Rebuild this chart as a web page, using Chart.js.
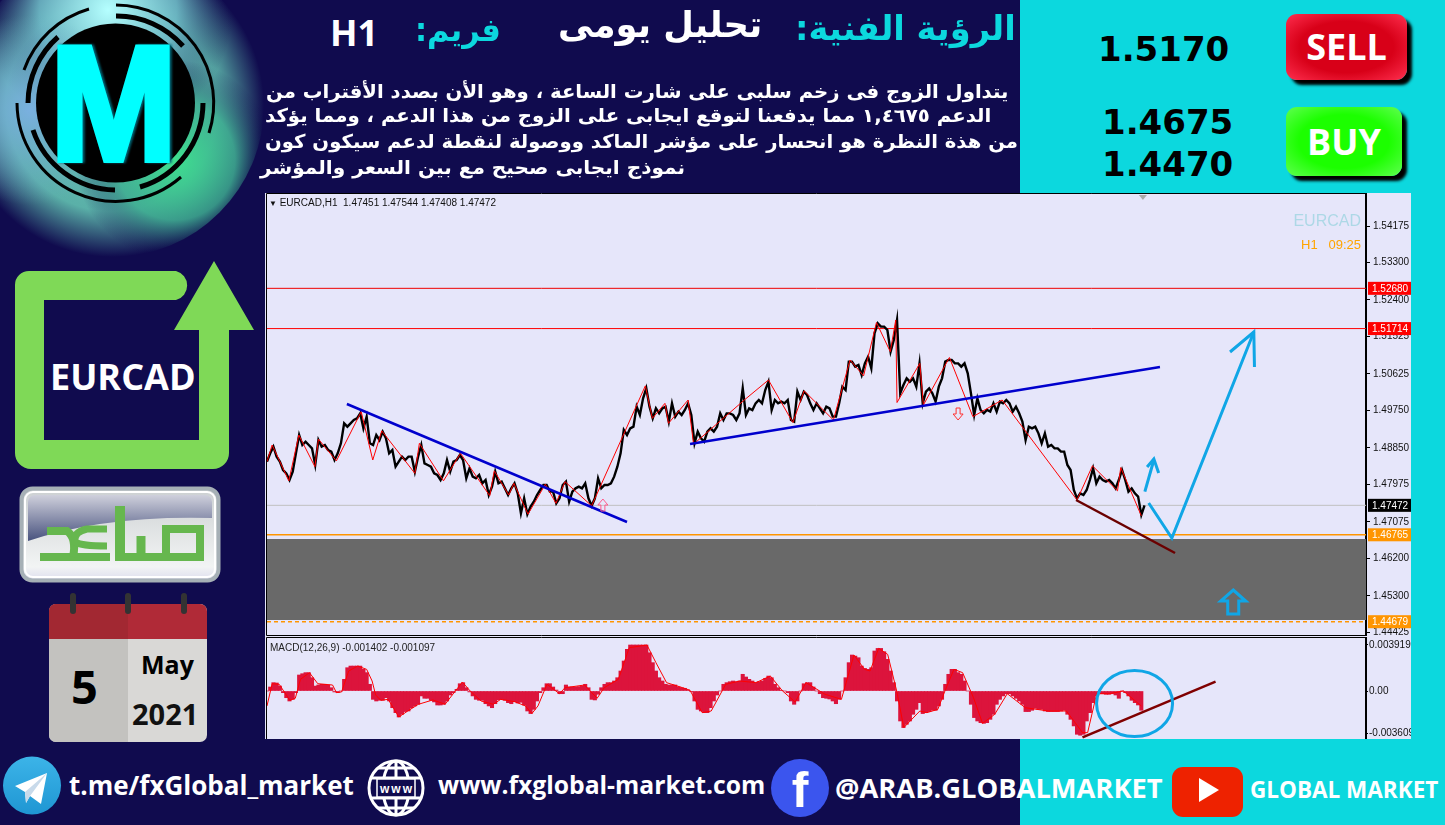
<!DOCTYPE html>
<html lang="ar">
<head>
<meta charset="utf-8">
<title>EURCAD H1</title>
<script src="https://cdn.jsdelivr.net/npm/chart.js@4"></script>
<style>
  html, body { margin: 0; padding: 0; background: #100b4e; }
  #page { position: relative; width: 1445px; height: 825px; overflow: hidden; background: #100b4e; font-family: "Open Sans", sans-serif; }
  .abs { position: absolute; white-space: nowrap; }
  .cyan { background: #0cd8de; position: absolute; }
  .ar { font-family: "DejaVu Sans", sans-serif; font-weight: bold; direction: rtl; transform-origin: right center; }
  .num { font-family: "DejaVu Sans", sans-serif; font-weight: bold; color: #000; font-size: 34px; line-height: 40px; }
  .foot { font-family: "Open Sans", sans-serif; font-weight: bold; color: #fff; transform-origin: left center; }
  canvas { position: absolute; background: #e6e6fa; }
  .btn { position: absolute; color: #fff; font: bold 36px "Open Sans", sans-serif; text-align: center; border-radius: 11px; box-shadow: 5px 5px 3px #000; }
</style>
</head>
<body>
<div id="page">
  <div class="cyan" style="left:1020px;top:0;width:425px;height:193px"></div>
  <div class="cyan" style="left:1411px;top:0;width:34px;height:825px"></div>
  <div class="cyan" style="left:1020px;top:739px;width:425px;height:86px"></div>

  <!-- logo -->
  <svg class="abs" style="left:0;top:0" width="270" height="265">
    <defs>
      <radialGradient id="gTop" gradientUnits="userSpaceOnUse" cx="108" cy="10" r="125">
        <stop offset="0" stop-color="#b5ffff"/><stop offset=".55" stop-color="#6fb8c8" stop-opacity=".8"/><stop offset="1" stop-color="#100b4e" stop-opacity="0"/>
      </radialGradient>
      <radialGradient id="gLeft" gradientUnits="userSpaceOnUse" cx="30" cy="110" r="95">
        <stop offset="0" stop-color="#7ab0e0"/><stop offset="1" stop-color="#6fa8c8" stop-opacity="0"/>
      </radialGradient>
      <radialGradient id="gRight" gradientUnits="userSpaceOnUse" cx="175" cy="160" r="100">
        <stop offset="0" stop-color="#3ee08f"/><stop offset=".6" stop-color="#3dae90" stop-opacity=".8"/><stop offset="1" stop-color="#100b4e" stop-opacity="0"/>
      </radialGradient>
      <radialGradient id="gBase" gradientUnits="userSpaceOnUse" cx="112" cy="105" r="152">
        <stop offset="0" stop-color="#6ec8b8"/><stop offset=".7" stop-color="#5ab0a8"/><stop offset="1" stop-color="#100b4e"/>
      </radialGradient>
    </defs>
    <circle cx="112" cy="105" r="152" fill="url(#gBase)"/>
    <circle cx="112" cy="105" r="152" fill="url(#gTop)"/>
    <circle cx="112" cy="105" r="152" fill="url(#gLeft)"/>
    <circle cx="112" cy="105" r="152" fill="url(#gRight)"/>
    <circle cx="115.5" cy="103" r="79.5" fill="#000"/>
    <g fill="none" stroke="#000" stroke-width="3">
      <path d="M116 5 A98 98 0 0 1 209 133"/>
      <path d="M181 177 A99 99 0 0 1 17 103"/>
      <path d="M24 70 A98 98 0 0 1 89 9"/>
      <path d="M116 16 A88 88 0 0 1 183 46" stroke-width="5"/>
      <path d="M203 103 A88 88 0 0 1 140 187" stroke-width="5"/>
      <path d="M115 190 A88 88 0 0 1 33 130" stroke-width="5"/>
      <path d="M28 103 A88 88 0 0 1 58 37" stroke-width="5"/>
    </g>
    <text x="50" y="160" font-family="Liberation Sans" font-weight="bold" font-size="163" textLength="127" lengthAdjust="spacingAndGlyphs" fill="#0ff" stroke="#0ff" stroke-width="6" style="filter:drop-shadow(2px 0 1px #067)">M</text>
  </svg>

  <!-- green arrow -->
  <svg class="abs" style="left:0;top:255px" width="265" height="220">
    <path fill="#7fd957" d="M29 16 H176 A15 15 0 0 1 176 45 H44 V185 H199 V75 H174 L214 6 L254 75 H229 V198 A16 16 0 0 1 213 214 H31 A16 16 0 0 1 15 198 V30 A14 14 0 0 1 29 16 Z"/>
  </svg>
  <div class="abs foot" style="left:50px;top:353px;font-size:36px;line-height:48px">EURCAD</div>

  <!-- saed logo -->
  <svg class="abs" style="left:15px;top:482px" width="210" height="105">
    <defs>
      <linearGradient id="sGrey" x1="0" y1="0" x2="0" y2="1"><stop offset="0" stop-color="#ccd0d2"/><stop offset=".85" stop-color="#f2f4f4"/><stop offset="1" stop-color="#dde"/></linearGradient>
      <linearGradient id="sDark" x1="0" y1="1" x2="0" y2="0"><stop offset="0" stop-color="#48527e"/><stop offset="1" stop-color="#cfd0dc"/></linearGradient>
    </defs>
    <rect x="6.5" y="6.5" width="197" height="92" rx="11" fill="url(#sGrey)" stroke="#a6b0b6" stroke-width="4"/>
    <rect x="10" y="10" width="190" height="85" rx="8" fill="none" stroke="#fff" stroke-width="2"/>
    <path d="M13 59 V20 A7 7 0 0 1 20 13 H190 A7 7 0 0 1 197 20 V36 Q90 33 13 59Z" fill="url(#sDark)"/>
    <g fill="none" stroke="#66b74e" stroke-width="8">
      <path d="M25 75 H95 M100 75 H185 V47 H151 V75"/>
      <path d="M105 79 V24" stroke-width="10"/>
      <path d="M126 75 V54" stroke-width="9"/>
      <path d="M32 49 H52 Q62 56 58 75"/>
      <path d="M92 47 H72 Q58 50 60 60 Q66 64 92 64" stroke-width="7"/>
    </g>
  </svg>

  <!-- calendar -->
  <svg class="abs" style="left:45px;top:590px" width="170" height="156">
    <rect x="4" y="14" width="158" height="138" rx="7" fill="#d9d8d6"/>
    <path d="M4 49 H83 V152 H11 A7 7 0 0 1 4 145Z" fill="#c3c2bf"/>
    <path d="M11 14 H155 A7 7 0 0 1 162 21 V49 H4 V21 A7 7 0 0 1 11 14Z" fill="#b02a37"/>
    <path d="M11 14 H83 V49 H4 V21 A7 7 0 0 1 11 14Z" fill="#a22832"/>
    <rect x="25" y="3" width="6" height="21" rx="3" fill="#333"/>
    <rect x="80" y="3" width="6" height="21" rx="3" fill="#333"/>
    <rect x="136" y="3" width="6" height="21" rx="3" fill="#333"/>
  </svg>
  <div class="abs foot" style="left:71px;top:655px;font-size:47px;line-height:62px;color:#000">5</div>
  <div class="abs foot" style="left:141px;top:646px;font-size:25px;line-height:36px;color:#000">May</div>
  <div class="abs foot" style="left:132px;top:694px;font-size:29px;line-height:40px;color:#111">2021</div>

  <!-- heading -->
  <div class="abs ar line" data-w="221" style="right:429px;top:6px;font-size:34px;line-height:44px;color:#0cd8de">الرؤية الفنية:</div>
  <div class="abs ar line" data-w="204" style="right:683px;top:3px;font-size:36px;line-height:44px;color:#fff">تحليل يومى</div>
  <div class="abs ar line" data-w="86" style="right:944px;top:8px;font-size:32px;line-height:44px;color:#0cd8de">فريم:</div>
  <div class="abs foot" style="left:330px;top:9px;font-size:36px;line-height:48px">H1</div>
  <div class="abs ar line" data-w="742" style="right:437px;top:79px;font-size:19px;line-height:25px;color:#fff">يتداول الزوج فى زخم سلبى على شارت الساعة ، وهو الأن بصدد الأقتراب من</div>
  <div class="abs ar line" data-w="726" style="right:454px;top:103px;font-size:19px;line-height:25px;color:#fff">الدعم ١,٤٦٧٥ مما يدفعنا لتوقع ايجابى على الزوج من هذا الدعم ، ومما يؤكد</div>
  <div class="abs ar line" data-w="753" style="right:427px;top:129px;font-size:19px;line-height:25px;color:#fff">من هذة النظرة هو انحسار على مؤشر الماكد ووصولة لنقطة لدعم سيكون كون</div>
  <div class="abs ar line" data-w="425" style="right:760px;top:155px;font-size:19px;line-height:25px;color:#fff">نموذج ايجابى صحيح مع بين السعر والمؤشر</div>

  <!-- levels -->
  <div class="abs num" style="left:1098px;top:29px">1.5170</div>
  <div class="abs num" style="left:1102px;top:102px">1.4675</div>
  <div class="abs num" style="left:1102px;top:144px">1.4470</div>
  <div class="btn" style="left:1286px;top:14px;width:121px;height:66px;line-height:66px;background:radial-gradient(ellipse at center,#d80018 55%,#ff3050 100%)">SELL</div>
  <div class="btn" style="left:1286px;top:107px;width:116px;height:69px;line-height:69px;background:radial-gradient(ellipse at center,#1cff00 55%,#60ff50 100%)">BUY</div>

  <canvas id="priceChart" style="left:265px;top:193px" width="1146" height="444"></canvas>
  <canvas id="macdChart" style="left:265px;top:637px" width="1146" height="102"></canvas>

  <div class="abs" style="left:269px;top:197px;font:10px 'Liberation Sans';line-height:12px;color:#111"><span style="font-size:8px">&#9660;</span> EURCAD,H1&nbsp; 1.47451 1.47544 1.47408 1.47472</div>
  <div class="abs" style="right:84px;top:212px;font:16px 'Liberation Sans';line-height:18px;color:#add8e6">EURCAD</div>
  <div class="abs" style="right:84px;top:237px;font:13px 'Liberation Sans';line-height:15px;color:#ffa500;white-space:pre">H1   09:25</div>
  <div class="abs" style="left:270px;top:642px;font:10px 'Liberation Sans';line-height:12px;color:#222">MACD(12,26,9) -0.001402 -0.001097</div>

  <!-- footer -->
  <svg class="abs" style="left:0;top:750px" width="1250" height="75">
    <defs><linearGradient id="tg" x1="0" y1="0" x2="0" y2="1"><stop offset="0" stop-color="#3cb4e8"/><stop offset="1" stop-color="#1f96d3"/></linearGradient></defs>
    <ellipse cx="32" cy="35.5" rx="29" ry="29" fill="url(#tg)"/>
    <path d="M15 36 L47 23 L41 54 L30 46 L26 53 L25 42Z" fill="#fff"/>
    <path d="M25 42 L47 23 L30 46 L26 53Z" fill="#c8daea"/>
    <g fill="none" stroke="#fff" stroke-width="3">
      <circle cx="396" cy="38" r="27"/>
      <ellipse cx="396" cy="38" rx="13" ry="27"/>
      <path d="M396 11 V65 M378 18 H414 M372 28 H420 M372 48 H420 M378 58 H414"/>
    </g>
    <rect x="377" y="29" width="38" height="18" fill="#100b4e" stroke="#fff" stroke-width="1.5"/>
    <text x="396" y="43" text-anchor="middle" font-family="Liberation Sans" font-weight="bold" font-size="12" fill="#fff" textLength="32">www</text>
    <ellipse cx="800" cy="38" rx="29" ry="29" fill="#3b55ee"/>
    <text x="800" y="57" text-anchor="middle" font-family="Liberation Sans" font-weight="bold" font-size="50" fill="#fff">f</text>
    <rect x="1172" y="17" width="71" height="50" rx="11" fill="#ee2200"/>
    <path d="M1199 28 L1219 40 L1199 52Z" fill="#fff"/>
  </svg>
  <div class="abs foot" style="left:69px;top:765px;font-size:26px;line-height:40px">t.me/fxGlobal_market</div>
  <div class="abs foot" style="left:438px;top:765px;font-size:24.7px;line-height:40px">www.fxglobal-market.com</div>
  <div class="abs foot" style="left:835px;top:768px;font-size:27.3px;line-height:40px">@ARAB.GLOBALMARKET</div>
  <div class="abs foot" style="left:1250px;top:772px;font-size:22.5px;line-height:36px">GLOBAL MARKET</div>
</div>

<script>
(function () {
  'use strict';

  // --- Price panel, one close every sample ---
  var closes = [
    1.4852, 1.4872, 1.4888, 1.4864, 1.4852, 1.4832, 1.4824, 1.4808, 1.4828, 1.4872, 1.4916, 1.4892, 1.4900, 1.4892, 1.4884, 1.4844,
    1.4904, 1.4888, 1.4892, 1.4880, 1.4876, 1.4856, 1.4872, 1.4896, 1.4944, 1.4936, 1.4944, 1.4952, 1.4956, 1.4968, 1.4932, 1.4960,
    1.4896, 1.4892, 1.4916, 1.4904, 1.4924, 1.4908, 1.4872, 1.4880, 1.4840, 1.4852, 1.4864, 1.4856, 1.4864, 1.4864, 1.4828, 1.4864,
    1.4892, 1.4848, 1.4844, 1.4840, 1.4824, 1.4820, 1.4808, 1.4824, 1.4856, 1.4828, 1.4852, 1.4856, 1.4868, 1.4856, 1.4812, 1.4836,
    1.4816, 1.4812, 1.4820, 1.4800, 1.4808, 1.4772, 1.4792, 1.4828, 1.4800, 1.4804, 1.4788, 1.4772, 1.4788, 1.4800, 1.4776, 1.4728,
    1.4764, 1.4726, 1.4744, 1.4756, 1.4772, 1.4784, 1.4796, 1.4796, 1.4780, 1.4780, 1.4752, 1.4764, 1.4796, 1.4804, 1.4756, 1.4780,
    1.4788, 1.4792, 1.4788, 1.4800, 1.4764, 1.4746, 1.4764, 1.4812, 1.4788, 1.4796, 1.4796, 1.4800, 1.4816, 1.4840, 1.4872, 1.4928,
    1.4916, 1.4932, 1.4936, 1.4984, 1.4964, 1.5004, 1.5028, 1.4984, 1.4956, 1.4980, 1.4968, 1.4980, 1.4984, 1.4948, 1.4992, 1.4960,
    1.4972, 1.4964, 1.4976, 1.4992, 1.4964, 1.4896, 1.4924, 1.4908, 1.4900, 1.4924, 1.4932, 1.4924, 1.4936, 1.4968, 1.4952, 1.4968,
    1.4968, 1.4964, 1.4952, 1.4968, 1.5028, 1.4964, 1.4980, 1.4976, 1.4992, 1.5000, 1.4992, 1.5024, 1.5044, 1.4976, 1.5000, 1.4992,
    1.4996, 1.4992, 1.5000, 1.4952, 1.4948, 1.5020, 1.5000, 1.5020, 1.5012, 1.4992, 1.4976, 1.4992, 1.4980, 1.4968,
    1.4984, 1.4980, 1.4960, 1.4960, 1.4992, 1.5032, 1.5024, 1.5092, 1.5092, 1.5080, 1.5084, 1.5060, 1.5088, 1.5104, 1.5076, 1.5160,
    1.5184, 1.5176, 1.5176, 1.5168, 1.5116, 1.5144, 1.5192, 1.5016, 1.5036, 1.5052, 1.5044, 1.5052, 1.5032, 1.5088, 1.4992, 1.5020,
    1.5028, 1.5016, 1.4996, 1.5032, 1.5052, 1.5092, 1.5096, 1.5096, 1.5088, 1.5088, 1.5080, 1.5088, 1.5064, 1.5016, 1.4964, 1.5004,
    1.4976, 1.4968, 1.4976, 1.4972, 1.4992, 1.4972, 1.4996, 1.4992, 1.5000, 1.4992, 1.4972, 1.4984, 1.4968, 1.4948, 1.4904, 1.4936,
    1.4932, 1.4936, 1.4920, 1.4896, 1.4920, 1.4888, 1.4892, 1.4884, 1.4884, 1.4876, 1.4876, 1.4844, 1.4832, 1.4784, 1.4764, 1.4776,
    1.4772, 1.4784, 1.4808, 1.4836, 1.4800, 1.4816, 1.4808, 1.4804, 1.4808, 1.4800, 1.4788, 1.4808, 1.4832, 1.4808, 1.4780, 1.4788,
    1.4776, 1.4768, 1.4724, 1.4747
  ];

  var zigzagAt = [0, 1.6, 6.8, 9.9, 14.9, 16, 21.6, 29.3, 32.9, 35.7, 46, 47.4, 54.9, 60.2, 69.3, 70.7, 75.2, 76.8, 81.2, 86.6, 89.9, 92.7, 101,
    117.7, 119.9, 123.8, 124.9, 131, 132.7, 148.8, 156, 163.6, 167.1, 173.6, 176.2, 181.4, 185.6, 189.6, 193.9, 195.6, 196, 203.1, 204.2, 212.3, 219.6, 228.7, 252, 256.8, 264.6, 265.6, 272];
  var zigzagPrice = [1.4852, 1.4892, 1.4806, 1.4916, 1.4840, 1.4906, 1.4854, 1.4972, 1.4856, 1.4926, 1.4824, 1.4896, 1.4806, 1.4872, 1.4770, 1.4830, 1.4772,
    1.4800, 1.4726, 1.4798, 1.4752, 1.4804, 1.4746, 1.5034, 1.4956, 1.4992, 1.4944, 1.5000, 1.4894, 1.5002, 1.5048, 1.4946, 1.5022, 1.4972, 1.4952, 1.5096, 1.5058,
    1.5186, 1.5116, 1.5192, 1.4994, 1.5088, 1.4988, 1.5102, 1.4960, 1.5000, 1.4760, 1.4842, 1.4782, 1.4838, 1.4722];

  var downTrendAt = [24.85, 112], downTrendPrice = [1.49904, 1.47072];
  var upTrendAt = [131.6, 277.8], upTrendPrice = [1.48944, 1.50792];
  var supportAt = [251.7, 282.5], supportPrice = [1.476, 1.46328];

  var pathAt = [274.3, 281.5, 307], pathPrice = [1.47528, 1.46688, 1.51632];
  var pathHeadAt = [299.6, 307, 307.2], pathHeadPrice = [1.51152, 1.51632, 1.50792];
  var bounceAt = [273.1, 275.9], bouncePrice = [1.47799, 1.4856];
  var bounceHeadAt = [273.8, 275.9, 277.4], bounceHeadPrice = [1.48392, 1.48584, 1.48248];

  var zoneTop = 1.46664, zoneBottom = 1.4472;
  var resistLevels = [1.5268, 1.51714];
  var lastPrice = 1.47472;
  var supportLevel = 1.46765;
  var lowerLevel = 1.44679;

  var priceTicks = [1.54175, 1.533, 1.524, 1.51525, 1.50625, 1.4975, 1.4885, 1.47975, 1.47075, 1.462, 1.453, 1.44425];
  var macdTicks = [0.003919, 0, -0.003609];

  // --- MACD panel ---
  var macdHist = [
    0, .00034, .00071, .00068, .00042, -.00014, -.00057, -.00085, -.00071, -.00014, .00136, .00147, .00156, .00156, .00113, .00042,
    .00051, .00057, .00057, .00051, .00028, -.00008, -.00014, 0, .00099, .00198, .00212, .00212, .00212, .00212, .00184, .00156,
    .00057, -.00071, -.00085, -.00079, -.00079, -.00057, -.00085, -.00142, -.00184, -.00221, -.00198, -.00175, -.0017, -.00142, -.00127, -.00113,
    -.00042, -.00062, -.00062, -.00079, -.00093, -.00119, -.00119, -.00113, -.00085, -.00034, -.00014, .00014, .00062, .00071, .00028, -.00008,
    -.00042, -.00071, -.00079, -.00079, -.00108, -.00127, -.00142, -.00108, -.00074, -.00071, -.00079, -.00099, -.00108, -.00091, -.00102, -.00096,
    -.00119, -.0017, -.00192, -.00156, -.00085, -.00014, .00028, .00062, .00062, .00034, .00008, -.00023, -.00023, .00051, .00034, .00034,
    .00034, .00037, .00042, .00057, .00028, -.00071, -.00076, -.00028, .00028, .00057, .00071, .00071, .00085, .00113, .0017, .00255,
    .00354, .00391, .00391, .00391, .00391, .00391, .00391, .00325, .00241, .0017, .00113, .00085, .00057, .00051, .00051, .00051,
    .00034, .00028, .00023, .00008, -.00006, -.00085, -.00156, -.0017, -.00184, -.00184, -.00142, -.00085, -.00034, 0, .00057, .00071,
    .00079, .00085, .00079, .00085, .00142, .00119, .00099, .00085, .00071, .00079, .00085, .00108, .00127, .00113, .00057, .00028,
    .00006, 0, -.00014, -.00085, -.00113, -.00085, 0, .00062, .00071, .00071, .00034, 0, -.00023, -.00057,
    -.00062, -.00068, -.00085, -.00108, -.00071, 0, .00113, .00241, .00306, .00297, .00283, .00212, .00192, .00184, .00198, .0034,
    .00362, .00362, .00334, .00269, .0017, .00071, -.00085, -.00255, -.00311, -.00283, -.00255, -.00198, -.00156, -.00099, -.00192, -.00184,
    -.00175, -.00164, -.00164, -.00127, -.00071, .00057, .00142, .00184, .00184, .00156, .00142, .00085, 0, -.00113, -.00226, -.00255,
    -.00269, -.00275, -.00269, -.00241, -.00198, -.00113, -.00071, -.00042, -.00023, -.00023, -.00042, -.00062, -.00085, -.00113, -.00175, -.00175,
    -.00164, -.00147, -.00156, -.00156, -.0017, -.00175, -.00175, -.00175, -.00175, -.0017, -.00164, -.00198, -.00241, -.00297, -.00368, -.00376,
    -.00368, -.00255, -.00184, -.00099, -.00042, -.00023, -.00023, -.00028, -.00028, -.00023, -.00034, -.00062, 0, -.00014, -.00042, -.00079,
    -.00099, -.00119, -.00164
  ];

  var signalAt = [0, 1.6, 3.8, 7.1, 8.8, 10.4, 13.2, 15.8, 20.4, 21.6, 23.2, 25.4, 28.2, 31, 32.7, 33.8, 35.4, 37.7, 41, 43.8, 47.1, 51.6, 55.4, 58.2, 60.8, 63.2, 66.6, 70.4, 72.7, 77.1,
    80.4, 82.4, 84.3, 87.1, 91, 92.7, 98.8, 102.7, 104.9, 109.3, 112.7, 118.2, 121, 124.3, 129.3, 131.6, 135.4, 138.2, 142.7, 147.1, 152.1, 156.6, 160.4, 164.3, 167.7, 173.6,
    178.7, 182.6, 185.9, 187.6, 190.3, 193.1, 195.9, 198.1, 203.1, 205.3, 208.7, 210.9, 213.7, 216.4, 219.8, 222.6, 226.4, 230.3, 235.9, 243.1, 248.7, 253.7, 255.3, 258.1, 262, 266.4, 272];
  var signalValue = [-.00127, .00062, .00057, -.00079, -.00062, .00099, .00156, .00062, .00051, -.00014, -.00008, .0017, .00212, .00184, .00085, -.00034, -.00079, -.00071, -.00221, -.0017, -.00113, -.00076, -.00113, -.00014, .00076, 0, -.00085, -.00113, -.00071, -.00091,
    -.00127, -.00192, -.00127, .00057, -.00023, .00028, .00051, -.00062, .00028, .00099, .00368, .00391, .00241, .00071, .00028, .00006, -.00184, -.0017, .00057, .00085, .00071, .00127, 0, -.00093, .00071, -.00028,
    -.00071, .00306, .00184, .0017, .00362, .00311, 0, -.00311, -.0017, -.00184, -.00156, 0, .00184, .00156, -.00057, -.00275, -.00198, -.00023, -.00142, -.0017, -.0017, -.00354, -.00354, -.00023, -.00023, 0, -.00127];

  var macdTrendAt = [253.7, 295.1], macdTrendValue = [-.00394, .00079];
  var circleAt = 269.9, circleValue = -.00106;

  var upMarkAt = 104.5, upMarkPrice = 1.4748;
  var downMarkAt = 215, downMarkPrice = 1.49664;
  var targetMarkAt = 300.6, targetMarkPrice = 1.45152;

  var X_MAX = 341.9;
  var SKY = '#10a6e6';

  function pairs(xs, ys) {
    return xs.map(function (x, i) { return { x: x, y: ys[i] }; });
  }

  function lineSet(xs, ys, color, width, extra) {
    var ds = { type: 'line', data: pairs(xs, ys), borderColor: color, borderWidth: width, pointRadius: 0, tension: 0, fill: false };
    if (extra) for (var k in extra) ds[k] = extra[k];
    return ds;
  }

  function levelSet(value, color, width, extra) {
    return lineSet([0, X_MAX], [value, value], color, width, extra);
  }

  // hollow up/down block arrow
  function blockArrow(ctx, x, y, w, h, stem, head, dir, color, lw) {
    var d = dir;
    ctx.save();
    ctx.strokeStyle = color;
    ctx.lineWidth = lw;
    ctx.beginPath();
    ctx.moveTo(x, y - d * h / 2);
    ctx.lineTo(x + w / 2, y - d * h / 2 + d * head);
    ctx.lineTo(x + stem / 2, y - d * h / 2 + d * head);
    ctx.lineTo(x + stem / 2, y + d * h / 2);
    ctx.lineTo(x - stem / 2, y + d * h / 2);
    ctx.lineTo(x - stem / 2, y - d * h / 2 + d * head);
    ctx.lineTo(x - w / 2, y - d * h / 2 + d * head);
    ctx.closePath();
    ctx.stroke();
    ctx.restore();
  }

  function priceTag(chart, value, color) {
    var ctx = chart.ctx;
    var y = chart.scales.y.getPixelForValue(value);
    ctx.save();
    ctx.fillStyle = color;
    ctx.fillRect(chart.chartArea.right + 2, y - 6.5, 43, 13);
    ctx.fillStyle = '#fff';
    ctx.font = '10px "Liberation Sans"';
    ctx.textBaseline = 'middle';
    ctx.fillText(value.toFixed(5), chart.chartArea.right + 6, y + 0.5);
    ctx.restore();
  }

  function frameLines(chart) {
    var ctx = chart.ctx, a = chart.chartArea;
    ctx.save();
    ctx.strokeStyle = '#000';
    ctx.lineWidth = 1;
    ctx.beginPath();
    ctx.moveTo(a.left - 0.5, a.bottom + 0.5);
    ctx.lineTo(a.left - 0.5, a.top - 0.5);
    ctx.lineTo(a.right, a.top - 0.5);
    ctx.moveTo(a.left - 0.5, a.bottom + 0.5);
    ctx.lineTo(a.right, a.bottom + 0.5);
    ctx.stroke();
    ctx.restore();
  }

  var priceMarks = {
    id: 'priceMarks',
    afterDatasetsDraw: function (chart) {
      var ctx = chart.ctx, sx = chart.scales.x, sy = chart.scales.y;
      blockArrow(ctx, sx.getPixelForValue(upMarkAt), sy.getPixelForValue(upMarkPrice), 10, 12, 4, 6, 1, '#ff5a8a', 1);
      blockArrow(ctx, sx.getPixelForValue(downMarkAt), sy.getPixelForValue(downMarkPrice), 10, 12, 4, 6, -1, '#ff3030', 1);
      blockArrow(ctx, sx.getPixelForValue(targetMarkAt), sy.getPixelForValue(targetMarkPrice), 25, 24, 11, 11, 1, SKY, 3);
      ctx.save();
      ctx.fillStyle = '#aaa';
      ctx.beginPath();
      ctx.moveTo(sx.getPixelForValue(272.5) - 4, chart.chartArea.top + 1);
      ctx.lineTo(sx.getPixelForValue(272.5) + 4, chart.chartArea.top + 1);
      ctx.lineTo(sx.getPixelForValue(272.5), chart.chartArea.top + 6);
      ctx.fill();
      ctx.restore();
    },
    afterDraw: function (chart) {
      frameLines(chart);
      priceTag(chart, resistLevels[0], '#ff0000');
      priceTag(chart, resistLevels[1], '#ff0000');
      priceTag(chart, lastPrice, '#000');
      priceTag(chart, supportLevel, '#ff9500');
      priceTag(chart, lowerLevel, '#ff9500');
    }
  };

  var macdMarks = {
    id: 'macdMarks',
    afterDatasetsDraw: function (chart) {
      var ctx = chart.ctx;
      ctx.save();
      ctx.strokeStyle = SKY;
      ctx.lineWidth = 3;
      ctx.beginPath();
      ctx.ellipse(chart.scales.x.getPixelForValue(circleAt), chart.scales.y.getPixelForValue(circleValue), 38, 33, 0, 0, Math.PI * 2);
      ctx.stroke();
      ctx.restore();
    },
    afterDraw: frameLines
  };

  function hiddenX() {
    return { type: 'linear', min: 0, max: X_MAX, display: false, offset: false };
  }

  function rightAxis(min, max, ticks, fmt, tickLen, pad) {
    return {
      type: 'linear',
      position: 'right',
      min: min,
      max: max,
      afterBuildTicks: function (axis) {
        axis.ticks = ticks.map(function (v) { return { value: v }; });
      },
      afterFit: function (axis) {
        axis.width = 45;
        // labels may run to the panel edge, no room kept for them
        axis.paddingTop = 0;
        axis.paddingBottom = 0;
      },
      border: { color: '#000', width: 2 },
      grid: { drawOnChartArea: false, tickLength: tickLen, tickColor: '#000', tickWidth: 1 },
      ticks: {
        color: '#111',
        padding: pad,
        font: { family: 'Liberation Sans', size: 10 },
        autoSkip: false,
        maxRotation: 0,
        callback: fmt
      }
    };
  }

  var closeData = closes.map(function (v, i) { return { x: i, y: v }; });
  var histData = macdHist.map(function (v, i) { return { x: i, y: v }; });

  new Chart(document.getElementById('priceChart'), {
    type: 'line',
    data: {
      datasets: [
        levelSet(zoneTop, 'rgba(0,0,0,0)', 0, { fill: { value: zoneBottom }, backgroundColor: '#696969', order: 20 }),
        levelSet(resistLevels[0], '#f00000', 1, { order: 10 }),
        levelSet(resistLevels[1], '#ff0000', 1, { order: 10 }),
        levelSet(lastPrice, '#c0c0c0', 1, { order: 10 }),
        levelSet(supportLevel, '#ff9500', 1.5, { order: 10 }),
        levelSet(lowerLevel, '#ff9500', 1.5, { order: 10, borderDash: [4, 3] }),
        { type: 'line', data: closeData, borderColor: '#000', borderWidth: 2.4, pointRadius: 0, tension: 0, order: 5 },
        lineSet(zigzagAt, zigzagPrice, '#ff0000', 1, { order: 4 }),
        lineSet(downTrendAt, downTrendPrice, '#0000cd', 2.5, { order: 3 }),
        lineSet(upTrendAt, upTrendPrice, '#0000cd', 2.5, { order: 3 }),
        lineSet(supportAt, supportPrice, '#6b0000', 2.5, { order: 3 }),
        lineSet(pathAt, pathPrice, SKY, 3, { order: 2 }),
        lineSet(pathHeadAt, pathHeadPrice, SKY, 3, { order: 2 }),
        lineSet(bounceAt, bouncePrice, SKY, 3, { order: 2 }),
        lineSet(bounceHeadAt, bounceHeadPrice, SKY, 3, { order: 2 })
      ]
    },
    options: {
      responsive: false,
      animation: false,
      devicePixelRatio: 1,
      layout: { autoPadding: false, padding: { left: 2, top: 1, bottom: 2, right: 0 } },
      plugins: { legend: { display: false }, tooltip: { enabled: false } },
      scales: {
        x: hiddenX(),
        y: rightAxis(1.4436, 1.54944, priceTicks, function (v) { return v.toFixed(5); }, 4, 3)
      }
    },
    plugins: [priceMarks]
  });

  new Chart(document.getElementById('macdChart'), {
    data: {
      datasets: [
        { type: 'bar', data: histData, backgroundColor: '#dc143c', borderWidth: 0, barThickness: 3.4, order: 5 },
        lineSet(signalAt, signalValue, '#ff0000', 1, { order: 3 }),
        lineSet(macdTrendAt, macdTrendValue, '#800000', 2.5, { order: 2 })
      ]
    },
    options: {
      responsive: false,
      animation: false,
      devicePixelRatio: 1,
      layout: { autoPadding: false, padding: { left: 2, top: 1, bottom: 0, right: 0 } },
      plugins: { legend: { display: false }, tooltip: { enabled: false } },
      scales: {
        x: hiddenX(),
        y: rightAxis(-0.00408, 0.004505, macdTicks, function (v) { return v === 0 ? '0.00' : v.toFixed(6); }, 2, 1)
      }
    },
    plugins: [macdMarks]
  });

  // squeeze the arabic lines to the width they have in the picture
  var lines = document.querySelectorAll('.line');
  for (var i = 0; i < lines.length; i++) {
    var want = parseFloat(lines[i].getAttribute('data-w'));
    lines[i].style.transform = 'scaleX(' + (want / lines[i].offsetWidth) + ')';
  }
})();
</script>
</body>
</html>
